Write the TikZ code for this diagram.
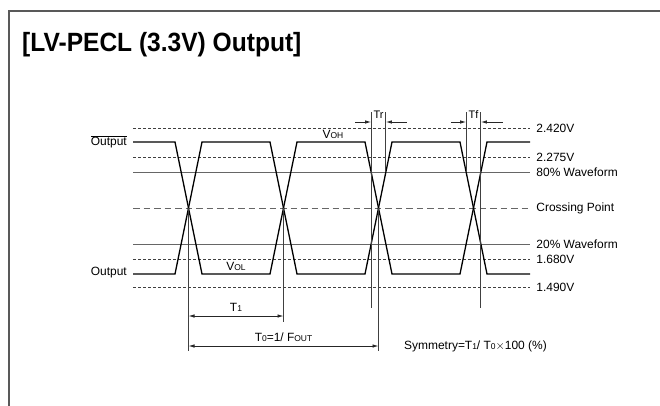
\documentclass[tikz,border=0pt]{standalone}
\usepackage{fontspec}
\setmainfont{Liberation Sans}
\usetikzlibrary{arrows.meta,calc}

\begin{document}
\begin{tikzpicture}[x=1bp,y=-1bp]
    \newcommand{\lowtxt}[1]{{\fontsize{8.5}{9}\selectfont #1}}
    \tikzstyle{frame}=[draw=black!65, line width=1.4bp]
    \tikzstyle{wave}=[draw=black, line width=1.3bp, line join=miter]
    \tikzstyle{level}=[draw=black!60, line width=0.9bp]
    \tikzstyle{limit}=[draw=black!75, line width=0.9bp, dash pattern=on 3bp off 2bp]
    \tikzstyle{crossline}=[draw=black!60, line width=0.9bp, dash pattern=on 6.5bp off 4bp]
    \tikzstyle{tick}=[draw=black!75, line width=0.8bp]
    \tikzstyle{dim}=[draw=black!85, line width=0.8bp, >={Latex[length=6bp,width=3.5bp]}]
    \tikzstyle{lbl}=[font=\fontsize{12}{14}\selectfont, inner sep=0pt]
    \tikzstyle{rlbl}=[lbl, anchor=west]
    \tikzstyle{slbl}=[lbl, font=\fontsize{11}{13}\selectfont]

    \useasboundingbox (0,0) rectangle (660,405);
    \fill[white] (0,0) rectangle (660,405);

    % frame and title
    {
      \draw[frame] (9,420) -- (9,11) -- (670,11);
      \node[anchor=west, inner sep=0pt] (title) at (22,45)
        {\scalebox{0.93}[1]{\fontsize{26.5}{30}\selectfont\bfseries [LV-PECL (3.3V) Output]}};
    }

    % reference levels
    {
      \draw[limit] (133,128) -- (530,128) node[rlbl, right=6bp] (v2420) {2.420V};
      \draw[limit] (133,157) -- (530,157) node[rlbl, right=6bp] (v2275) {2.275V};
      \draw[level] (133,172) -- (530,172) node[rlbl, right=6bp] (p80) {80\% Waveform};
      \draw[crossline] (133,208) -- (530,208) node[rlbl, right=6bp] (cross) {Crossing Point};
      \draw[level] (133,244) -- (530,244) node[rlbl, right=6bp] (p20) {20\% Waveform};
      \draw[limit] (133,259) -- (530,259) node[rlbl, right=6bp] (v1680) {1.680V};
      \draw[limit] (133,287) -- (530,287) node[rlbl, right=6bp] (v1490) {1.490V};
    }

    % waveforms
    {
      \coordinate (hi0) at (133,142);
      \coordinate (lo0) at (133,274);
      \coordinate (e1a) at (175,274);
      \coordinate (e1b) at (202,142);
      \coordinate (e2a) at (270,142);
      \coordinate (e2b) at (297,274);
      \coordinate (e3a) at (365,274);
      \coordinate (e3b) at (392,142);
      \coordinate (e4a) at (460,142);
      \coordinate (e4b) at (487,274);

      % Output
      \draw[wave] (lo0) -- (e1a) -- (e1b) -- (e2a) -- (e2b) -- (e3a) -- (e3b)
        -- (e4a) -- (e4b) -- (530,274);
      % Output (inverted)
      \draw[wave] (hi0) -- (e1a |- hi0) -- (e1b |- lo0) -- (e2a |- lo0) -- (e2b |- hi0)
        -- (e3a |- hi0) -- (e3b |- lo0) -- (e4a |- lo0) -- (e4b |- hi0) -- (530,142);

      \node[lbl, anchor=east] (outbar) at (127,142) {$\overline{\mbox{Output}}$};
      \node[lbl, anchor=east] (out) at (127,273) {Output};
      \node[lbl] (voh) at (333,134) {V\lowtxt{OH}};
      \node[lbl] (vol) at (236,266) {V\lowtxt{OL}};
    }

    % crossing points and period
    {
      \coordinate (x1) at ($(e1a)!0.5!(e1b)$);
      \coordinate (x2) at ($(e2a)!0.5!(e2b)$);
      \coordinate (x3) at ($(e3a)!0.5!(e3b)$);
      \draw[tick] (x1) -- (x1 |- 0,351);
      \draw[tick] (x2) -- (x2 |- 0,322);
      \draw[tick] (x3) -- (x3 |- 0,351);

      \draw[dim, <->] (x1 |- 0,316) -- (x2 |- 0,316)
        node[lbl, midway, above=4bp] (t1) {T\lowtxt{1}};
      \draw[dim, <->] (x1 |- 0,346) -- (x3 |- 0,346)
        node[lbl, midway, above=4bp] (t0) {T\lowtxt{0}=1/ F\lowtxt{OUT}};
      \node[lbl, anchor=west] (sym) at (404,346) {Symmetry=T\lowtxt{1}/ T\lowtxt{0}$\times$100 (\%)};
    }

    % rise and fall time
    {
      \coordinate (r20) at ($(e3a)!0.227!(e3b)$);
      \coordinate (r80) at ($(e3a)!0.773!(e3b)$);
      \coordinate (f80) at ($(e4a)!0.227!(e4b)$);
      \coordinate (f20) at ($(e4a)!0.773!(e4b)$);
      \draw[tick] (r20 |- 0,112) -- (r20 |- 0,308);
      \draw[tick] (r80 |- 0,112) -- (r80);
      \draw[tick] (f80 |- 0,112) -- (f80);
      \draw[tick] (f20 |- 0,112) -- (f20 |- 0,308);

      \draw[dim, ->] ([xshift=-16bp] r20 |- 0,122) -- (r20 |- 0,122);
      \draw[dim, ->] ([xshift=21bp] r80 |- 0,122) -- (r80 |- 0,122);
      \draw[dim, ->] ([xshift=-15bp] f80 |- 0,122) -- (f80 |- 0,122);
      \draw[dim, ->] ([xshift=22bp] f20 |- 0,122) -- (f20 |- 0,122);
      \node[slbl] (tr) at ($(r20 |- 0,115)!0.5!(r80 |- 0,115)$) {Tr};
      \node[slbl] (tf) at ($(f80 |- 0,115)!0.5!(f20 |- 0,115)$) {Tf};
    }
\end{tikzpicture}
\end{document}
